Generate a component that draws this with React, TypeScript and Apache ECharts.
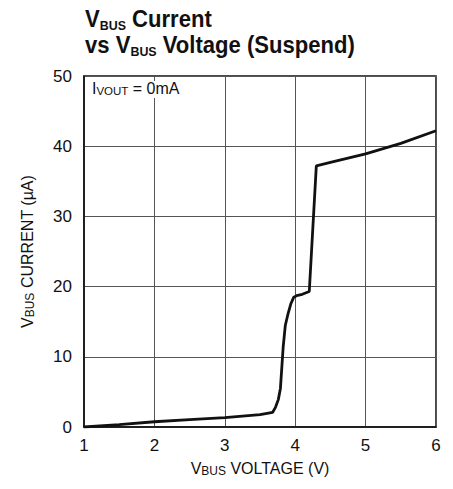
import React, { useEffect, useRef } from "react";
import * as echarts from "echarts";

const voltage = [1, 1.5, 2, 2.5, 3, 3.5, 3.68, 3.72, 3.76, 3.79, 3.81, 3.83, 3.86, 3.9, 3.94, 3.98, 4.02, 4.1, 4.2, 4.3, 4.5, 5, 5.5, 6];
const current = [0, 0.35, 0.75, 1.05, 1.35, 1.75, 2.1, 2.8, 3.9, 5.5, 8.5, 11.5, 14.5, 16.2, 17.6, 18.5, 18.7, 18.9, 19.3, 37.2, 37.7, 38.9, 40.4, 42.2];
const xTicks = [1, 2, 3, 4, 5, 6];
const yTicks = [0, 10, 20, 30, 40, 50];

const FONT = "'Liberation Sans', Arial, sans-serif";
const INK = "#111";

function tx(text: string, x: number, y: number, size: number, bold: boolean) {
  return {
    type: "text",
    x,
    y,
    style: {
      text,
      fontSize: size,
      fontWeight: bold ? "bold" : "normal",
      fontFamily: FONT,
      fill: INK,
      verticalAlign: "bottom",
      align: "left",
    },
  };
}

export default function App() {
  const ref = useRef<HTMLDivElement>(null);
  useEffect(() => {
    if (!ref.current) return;
    const chart = echarts.init(ref.current, null, { renderer: "svg" });
    const T = 24;
    const S = 13.5;
    const wV = 0.667 * T;
    const wBUS = 2.111 * S;
    const wvsV = 2.057 * T;
    chart.setOption({
      animation: false,
      backgroundColor: "#fff",
      grid: {
        left: 84,
        right: 17,
        top: 76,
        bottom: 62,
        show: true,
        borderColor: INK,
        borderWidth: 1.5,
      },
      xAxis: {
        type: "value",
        min: 1,
        max: 6,
        interval: 1,
        name: "{a|V}{s|BUS}{a| VOLTAGE (V)}",
        nameLocation: "middle",
        nameGap: 32,
        nameTextStyle: {
          rich: {
            a: { fontSize: 16, fontFamily: FONT, color: INK, lineHeight: 18 },
            s: { fontSize: 12, fontFamily: FONT, color: INK, lineHeight: 12, verticalAlign: "bottom" },
          },
        },
        axisLine: { show: true, lineStyle: { color: INK, width: 1.5 } },
        axisTick: { show: false },
        axisLabel: { fontSize: 17, fontFamily: FONT, color: INK, margin: 10, formatter: (v: number) => (xTicks.includes(v) ? String(v) : "") },
        splitLine: { show: true, lineStyle: { color: "#555", width: 1 } },
      },
      yAxis: {
        type: "value",
        min: 0,
        max: 50,
        interval: 10,
        name: "{a|V}{s|BUS}{a| CURRENT (µA)}",
        nameLocation: "middle",
        nameGap: 48,
        nameTextStyle: {
          rich: {
            a: { fontSize: 16, fontFamily: FONT, color: INK, lineHeight: 18 },
            s: { fontSize: 12, fontFamily: FONT, color: INK, lineHeight: 12, verticalAlign: "bottom" },
          },
        },
        axisLine: { show: true, lineStyle: { color: INK, width: 1.5 } },
        axisTick: { show: false },
        axisLabel: { fontSize: 17, fontFamily: FONT, color: INK, margin: 12, formatter: (v: number) => (yTicks.includes(v) ? String(v) : "") },
        splitLine: { show: true, lineStyle: { color: "#555", width: 1 } },
      },
      graphic: [
        {
          type: "group",
          x: 85,
          y: 0,
          scaleX: 0.92,
          children: [
            tx("V", 0, 31, T, true),
            tx("BUS", wV, 32.5, S, true),
            tx(" Current", wV + wBUS, 31, T, true),
            tx("vs V", 0, 57, T, true),
            tx("BUS", wvsV, 58.5, S, true),
            tx(" Voltage (Suspend)", wvsV + wBUS, 57, T, true),
          ],
        },
        {
          type: "rect",
          shape: { x: 90, y: 81, width: 90, height: 17 },
          style: { fill: "#fff" },
          z: 99,
        },
        {
          type: "text",
          left: 92,
          top: 80,
          z: 100,
          style: {
            text: "{a|I}{s|VOUT}{a| = 0mA}",
            rich: {
              a: { fontSize: 16, fontFamily: FONT, fill: INK, lineHeight: 18 },
              s: { fontSize: 11.5, fontFamily: FONT, fill: INK, lineHeight: 12, verticalAlign: "bottom" },
            },
          },
        },
      ],
      series: [
        {
          type: "line",
          data: voltage.map((v, i) => [v, current[i]]),
          showSymbol: false,
          smooth: false,
          lineStyle: { color: INK, width: 2.8 },
          z: 5,
        },
      ],
    });
    return () => chart.dispose();
  }, []);
  return <div ref={ref} style={{ width: 453, height: 489, position: "absolute", left: 0, top: 0 }} />;
}
